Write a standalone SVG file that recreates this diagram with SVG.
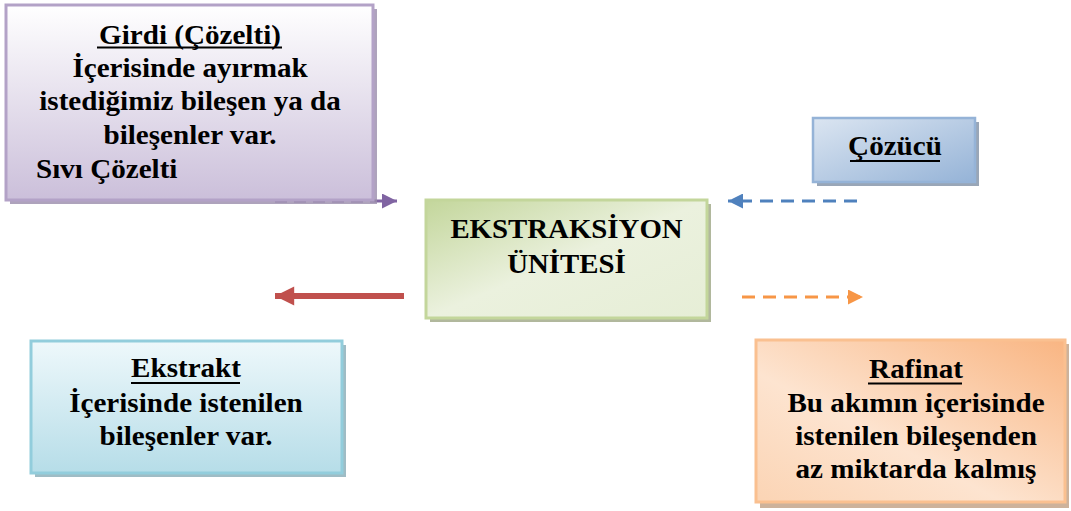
<svg xmlns="http://www.w3.org/2000/svg" width="1071" height="511" viewBox="0 0 1071 511">
<style>
.t{font-family:"Liberation Serif","Times New Roman",serif;font-weight:bold;font-size:28px;fill:#000}
.ul{stroke:#000;stroke-width:2.2}
</style>
<defs>
<linearGradient id="gPurple" x1="0" y1="0" x2="0" y2="1">
<stop offset="0" stop-color="#ffffff"/><stop offset="1" stop-color="#cbbfda"/>
</linearGradient>
<linearGradient id="gGreen" x1="0" y1="0" x2="1" y2="1">
<stop offset="0" stop-color="#c3d69b"/><stop offset="0.5" stop-color="#ebf1de"/><stop offset="1" stop-color="#e6eed6"/>
</linearGradient>
<linearGradient id="gBlue" x1="0" y1="0" x2="1" y2="1">
<stop offset="0" stop-color="#dbe5f1"/><stop offset="1" stop-color="#95b3d7"/>
</linearGradient>
<linearGradient id="gCyan" x1="0" y1="0" x2="0" y2="1">
<stop offset="0" stop-color="#eef8fb"/><stop offset="1" stop-color="#b6dde8"/>
</linearGradient>
<linearGradient id="gOrange" x1="1" y1="0" x2="0" y2="1">
<stop offset="0" stop-color="#f9b582"/><stop offset="0.6" stop-color="#fde4d0"/><stop offset="1" stop-color="#fbd4b4"/>
</linearGradient>
<marker id="mPurple" viewBox="0 0 10 10" refX="10" refY="5" markerWidth="5" markerHeight="5" orient="auto" markerUnits="strokeWidth"><path d="M0,0 L10,5 L0,10 Z" fill="#8064a2"/></marker>
<marker id="mBlue" viewBox="0 0 10 10" refX="10" refY="5" markerWidth="5" markerHeight="5" orient="auto" markerUnits="strokeWidth"><path d="M0,0 L10,5 L0,10 Z" fill="#4f81bd"/></marker>
<marker id="mOrange" viewBox="0 0 10 10" refX="10" refY="5" markerWidth="5" markerHeight="5" orient="auto" markerUnits="strokeWidth"><path d="M0,0 L10,5 L0,10 Z" fill="#f79646"/></marker>
<marker id="mRed" viewBox="0 0 10 10" refX="10" refY="5" markerWidth="3.4" markerHeight="3.2" orient="auto" markerUnits="strokeWidth"><path d="M0,0 L10,5 L0,10 Z" fill="#c0504d"/></marker>
</defs>

<g id="connectors">
<line x1="275" y1="201" x2="397" y2="201" stroke="#8064a2" stroke-width="3" stroke-dasharray="12 7" marker-end="url(#mPurple)"/>
<line x1="857" y1="201" x2="728" y2="201" stroke="#4f81bd" stroke-width="3" stroke-dasharray="13 8" marker-end="url(#mBlue)"/>
<line x1="742" y1="297" x2="863" y2="297" stroke="#f79646" stroke-width="3" stroke-dasharray="13 8" marker-end="url(#mOrange)"/>
<line x1="404" y1="296" x2="275" y2="296" stroke="#c0504d" stroke-width="6" marker-end="url(#mRed)"/>
</g>

<g id="girdi">
<rect x="10" y="9" width="367" height="195" fill="#9a8cab" opacity="0.8"/>
<rect x="6" y="5" width="367" height="195" fill="url(#gPurple)" stroke="#b3a2c7" stroke-width="3"/>
<g transform="translate(190 0) scale(1.04 1)">
<text class="t" x="0" y="44" text-anchor="middle">Girdi (Çözelti)</text>
<text class="t" x="0" y="77" text-anchor="middle">İçerisinde ayırmak</text>
<text class="t" x="0" y="110" text-anchor="middle">istediğimiz bileşen ya da</text>
<text class="t" x="0" y="144" text-anchor="middle">bileşenler var.</text>
</g>
<line class="ul" x1="97" y1="47.5" x2="282" y2="47.5"/>
<g transform="translate(36 0) scale(1.04 1)">
<text class="t" x="0" y="178">Sıvı Çözelti</text>
</g>
</g>

<g id="ekstraksiyon">
<rect x="430" y="204" width="281" height="118" fill="#a3ab8c" opacity="0.85"/>
<rect x="426" y="200" width="281" height="118" fill="url(#gGreen)" stroke="#c3d69b" stroke-width="3"/>
<g transform="translate(566.5 0) scale(1.03 1)">
<text class="t" x="0" y="238" text-anchor="middle">EKSTRAKSİYON</text>
<text class="t" x="0" y="273" text-anchor="middle">ÜNİTESİ</text>
</g>
</g>

<g id="cozucu">
<rect x="817" y="122" width="162" height="64" fill="#8796aa" opacity="0.85"/>
<rect x="813" y="118" width="162" height="64" fill="url(#gBlue)" stroke="#95b3d7" stroke-width="2.5"/>
<g transform="translate(895 0) scale(1.04 1)">
<text class="t" x="0" y="155" text-anchor="middle">Çözücü</text>
</g>
<line class="ul" x1="850" y1="161" x2="940" y2="161"/>
</g>

<g id="ekstrakt">
<rect x="35" y="345" width="311" height="132" fill="#8eb0bb" opacity="0.85"/>
<rect x="31" y="341" width="311" height="132" fill="url(#gCyan)" stroke="#92cddc" stroke-width="3"/>
<g transform="translate(186 0) scale(1.04 1)">
<text class="t" x="0" y="377" text-anchor="middle">Ekstrakt</text>
<text class="t" x="0" y="412" text-anchor="middle">İçerisinde istenilen</text>
<text class="t" x="0" y="445" text-anchor="middle">bileşenler var.</text>
</g>
<line class="ul" x1="131" y1="383" x2="240" y2="383"/>
</g>

<g id="rafinat">
<rect x="760" y="344" width="309" height="164" fill="#c4a48a" opacity="0.85"/>
<rect x="756" y="340" width="309" height="162" fill="url(#gOrange)" stroke="#fac090" stroke-width="3"/>
<g transform="translate(916 0) scale(1.04 1)">
<text class="t" x="0" y="378" text-anchor="middle">Rafinat</text>
<text class="t" x="0" y="412" text-anchor="middle">Bu akımın içerisinde</text>
<text class="t" x="0" y="445" text-anchor="middle">istenilen bileşenden</text>
<text class="t" x="0" y="478" text-anchor="middle">az miktarda kalmış</text>
</g>
<line class="ul" x1="868" y1="383.5" x2="962" y2="383.5"/>
</g>
</svg>
